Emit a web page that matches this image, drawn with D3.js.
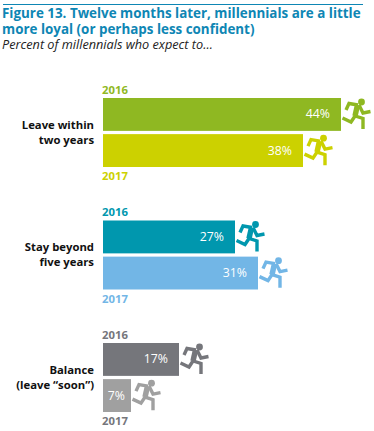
<!DOCTYPE html>
<html>
<head>
<meta charset="utf-8">
<title>Figure 13</title>
<script src="https://cdnjs.cloudflare.com/ajax/libs/d3/7.8.5/d3.min.js"></script>
<style>
    html, body { margin: 0; padding: 0; background: #fff; }
    text { font-family: "Open Sans", sans-serif; }
</style>
</head>
<body>
<div id="chart"></div>
<script>
var groups = ["Leave within|two years", "Stay beyond|five years", "Balance|(leave \u201csoon\u201d)"];
var years = ["2016", "2017"];
var values2016 = [44, 27, 17];
var values2017 = [38, 31, 7];
var colors2016 = ["#8fb822", "#0097ae", "#75767b"];
var colors2017 = ["#ccd100", "#72b6e6", "#a0a0a0"];
var yearLabelColors2017 = ["#ccd100", "#72b6e6", "#75767b"];
var titleLines = ["Figure 13. Twelve months later, millennials are a little", "more loyal (or perhaps less confident)"];
var subtitle = "Percent of millennials who expect to\u2026";

var w = 374, h = 431, barLeft = 103;

var svg = d3.select("#chart").append("svg").attr("width", w).attr("height", h).style("display", "block");

// the printed bars are not to one linear scale, so the scale goes through each printed value
var xScale = d3.scaleLinear().domain([0, 7, 17, 27, 31, 38, 44]).range([0, 28, 76, 132, 155, 200, 238]);
var groupScale = d3.scalePoint().domain(groups).range([98, 343]);
var barScale = d3.scaleBand().domain(years).range([0, 69]).paddingInner(0.09);

// top rule and headings
svg.append("rect").attr("x", 3).attr("y", 4).attr("width", 360).attr("height", 1).attr("fill", "#0e86b4");
svg.selectAll(".title").data(titleLines).enter().append("text")
    .attr("x", 2).attr("y", function(d, i) { return 17.5 + i * 16; })
    .attr("font-size", 13.4).attr("font-weight", 700).attr("fill", "#0e86b4")
    .text(function(d) { return d; });
svg.append("text").attr("x", 2).attr("y", 49).attr("font-size", 12.7).attr("font-style", "italic")
    .attr("fill", "#222").text(subtitle);

// runner icon, drawn from the end of the bar
function runner(sel, color) {
    sel.append("circle").attr("cx", 20.5).attr("cy", 4).attr("r", 3.4).attr("fill", color);
    sel.append("path").attr("fill", "none").attr("stroke", color).attr("stroke-width", 3.4)
        .attr("d", "M5 12 L8 5.5 L17 7 M18 7 L22 15 L29.5 13.5 M1.5 20 L10 24 L14 18 L22 20.5 L22 31");
    sel.append("path").attr("fill", "none").attr("stroke", color).attr("stroke-width", 5.5)
        .attr("d", "M16.5 7 L14 18");
}

var group = svg.selectAll(".group").data(groups).enter().append("g")
    .attr("transform", function(d) { return "translate(" + barLeft + "," + groupScale(d) + ")"; });

group.each(function(name, i) {
    var g = d3.select(this);
    var rows = [
        {year: years[0], value: values2016[i], color: colors2016[i], labelColor: colors2016[i], labelY: -4.5},
        {year: years[1], value: values2017[i], color: colors2017[i], labelColor: yearLabelColors2017[i], labelY: 82}
    ];
    rows.forEach(function(r) {
        var labelPad = r.value < 10 ? 6 : 11; // single digit label sits closer to the bar end
        g.append("rect").attr("x", 0).attr("y", barScale(r.year))
            .attr("width", xScale(r.value)).attr("height", barScale.bandwidth()).attr("fill", r.color);
        g.append("text").attr("x", xScale(r.value) - labelPad).attr("y", barScale(r.year) + barScale.bandwidth() / 2 + 4)
            .attr("text-anchor", "end").attr("font-size", 12.3).attr("font-weight", 500).attr("fill", "#fff")
            .text(r.value + "%");
        g.append("text").attr("x", -1).attr("y", r.labelY).attr("font-size", 11.3).attr("font-weight", 700)
            .attr("fill", r.labelColor).text(r.year);
        g.append("g").attr("transform", "translate(" + xScale(r.value) + "," + barScale(r.year) + ")").call(runner, r.color);
    });
    name.split("|").forEach(function(line, j) {
        g.append("text").attr("x", -9).attr("y", 30.5 + j * 15).attr("text-anchor", "end")
            .attr("font-size", 11.3).attr("font-weight", 700).attr("fill", "#111").text(line);
    });
});
</script>
</body>
</html>
